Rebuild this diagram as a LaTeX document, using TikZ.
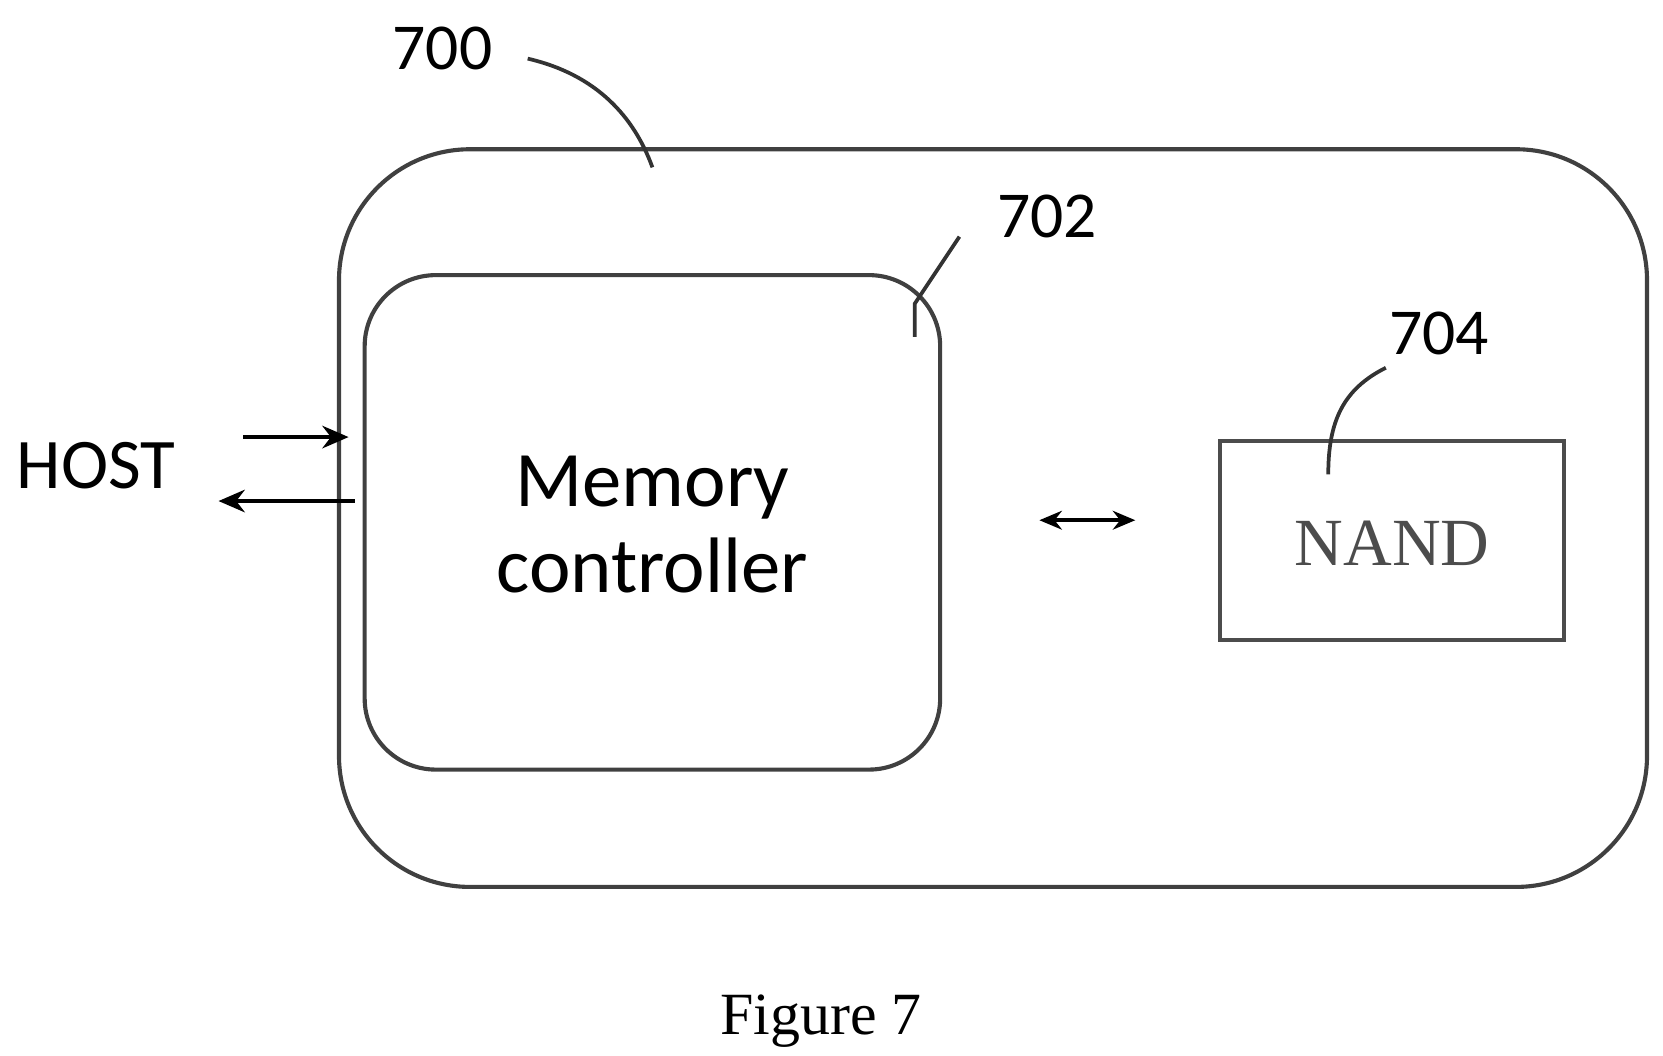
\documentclass[tikz,border=0pt]{standalone}
\usepackage{fontspec}
\setmainfont{Liberation Serif}
\newfontfamily\carl{Carlito}
\usetikzlibrary{arrows.meta}
\begin{document}
\begin{tikzpicture}[x=0.02cm,y=-0.02cm,
  box/.style={draw=black!75,line width=2.2pt},
  lead/.style={draw=black!80,line width=2pt},
  arr/.style={draw=black,line width=2.2pt,-{Stealth[length=14pt,width=12pt]}},
  num/.style={font=\carl\fontsize{35}{40}\selectfont}]
\useasboundingbox (0,0) rectangle (1560,990);
\draw[box,rounded corners=70pt] (318,140) rectangle (1545,832);
\node[box,rounded corners=38pt,minimum width=540*0.569pt,minimum height=464*0.569pt,inner sep=0] (mc) at (612,490) {};
\node[align=center,font=\carl\fontsize{42}{46}\selectfont] (mct) at (612,492) {Memory\\controller};
\node[box,draw=black!70,minimum width=323*0.569pt,minimum height=187*0.569pt,inner sep=0] (nand) at (1306,507) {};
\node[font=\fontsize{36}{40}\selectfont,text=black!70] (nt) at (1306,510) {NAND};
\coordinate (dl) at (975,488); \coordinate (dr) at (1065,488);
\draw[draw=black,line width=2pt,{Stealth[length=12pt,width=10pt]}-{Stealth[length=12pt,width=10pt]}] (dl) -- (dr);
\node[font=\carl\fontsize{38}{44}\selectfont] (host) at (90,437) {HOST};
\coordinate (a1) at (228,410); \coordinate (a2) at (327,410);
\coordinate (b1) at (333,470); \coordinate (b2) at (205,470);
\draw[arr] (a1) -- (a2);
\draw[arr] (b1) -- (b2);
\node[num] (n700) at (415,45) {700};
\node[num] (n702) at (982,203) {702};
\node[num] (n704) at (1350,313) {704};
\coordinate (c700) at (612,157);
\coordinate (c702) at (858,316);
\coordinate (c704) at (1246,445);
\draw[lead] (495,55) .. controls (560,70) and (595,110) .. (c700);
\draw[lead] (900,222) -- (858,285) -- (c702);
\draw[lead] (1300,345) .. controls (1260,365) and (1246,395) .. (c704);
\node[font=\fontsize{32}{36}\selectfont] (fig) at (770,958) {Figure 7};
\end{tikzpicture}
\end{document}
